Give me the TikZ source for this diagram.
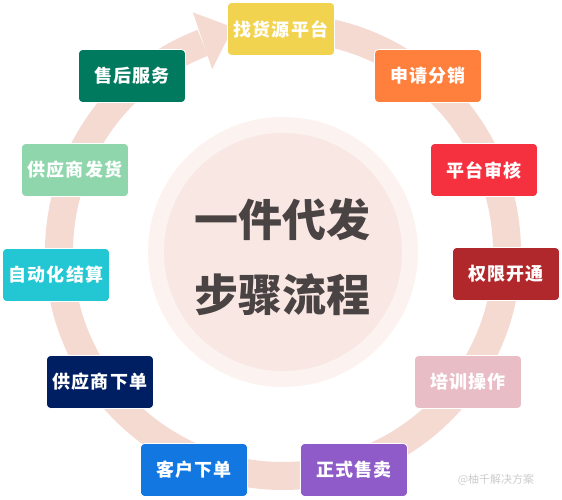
\documentclass[tikz,border=0pt]{standalone}
\usepackage{fontspec}
\newfontfamily\cjk{Noto Sans CJK SC}
\newfontfamily\cjkwide{Noto Sans CJK SC}[LetterSpace=6]
\usepackage{xcolor}
\usepackage{tikz}
\usetikzlibrary{shapes, arrows, calc}
\definecolor{ringPink}{HTML}{F5DAD2}
\definecolor{diskOuter}{HTML}{FCF2EF}
\definecolor{diskInner}{HTML}{F9E7E3}
\definecolor{titleGray}{HTML}{4A4343}
\definecolor{cYellow}{HTML}{F2D34F}
\definecolor{cOrange}{HTML}{FF7F3D}
\definecolor{cRed}{HTML}{F5303F}
\definecolor{cDarkRed}{HTML}{B0282C}
\definecolor{cPink}{HTML}{E8BDC5}
\definecolor{cPurple}{HTML}{8E5BC9}
\definecolor{cBlue}{HTML}{1277E0}
\definecolor{cNavy}{HTML}{001E62}
\definecolor{cCyan}{HTML}{22C7D3}
\definecolor{cMint}{HTML}{8FD6AC}
\definecolor{cGreen}{HTML}{007A5E}
\tikzstyle{stage} = [rectangle, draw=white, line width=0.8pt, rounded corners=4pt, text centered, minimum width=107pt, minimum height=53pt, inner sep=0pt, text=white, font=\cjkwide\bfseries\fontsize{18}{18}\selectfont]
\tikzstyle{title} = [text=titleGray, font=\cjk\bfseries\fontsize{44}{44}\selectfont]
\tikzstyle{ring} = [draw=ringPink, line width=28pt]

\begin{document}
\begin{tikzpicture}[x=1pt, y=1pt]
\useasboundingbox (0,0) rectangle (562,500);

\coordinate (center) at (283,248);

% background disks
\fill[diskOuter] (center) circle[radius=135];
\fill[diskInner] (center) circle[radius=119];

% ring with arrow head
\draw[ring] ($(center)+(95:224)$) arc[start angle=95, end angle=-249, radius=224];
\fill[ringPink] ($(center)+(111.2:196)$) -- ($(center)+(110.6:256)$) -- ($(center)+(102.5:230)$) -- cycle;

\node[title] at (282,280) (titleTop) {一件代发};
\node[title] at (282,205) (titleBottom) {步骤流程};

\node[stage, fill=cYellow] at (281,471) (findSource) {找货源平台};
\node[stage, fill=cOrange] at (428,424) (apply) {申请分销};
\node[stage, fill=cRed] at (484,330) (review) {平台审核};
\node[stage, fill=cDarkRed] at (506,226) (grant) {权限开通};
\node[stage, fill=cPink] at (468,118) (training) {培训操作};
\node[stage, fill=cPurple] at (354,30) (onSale) {正式售卖};
\node[stage, fill=cBlue] at (194,30) (customerOrder) {客户下单};
\node[stage, fill=cNavy] at (100,118) (supplierOrder) {供应商下单};
\node[stage, fill=cCyan] at (56,225) (settle) {自动化结算};
\node[stage, fill=cMint] at (75,330) (ship) {供应商发货};
\node[stage, fill=cGreen] at (132,424) (afterSales) {售后服务};

\node[text=black!20, font=\cjk\fontsize{11}{11}\selectfont] at (496,20) (mark) {@柚千解决方案};

\end{tikzpicture}
\end{document}
